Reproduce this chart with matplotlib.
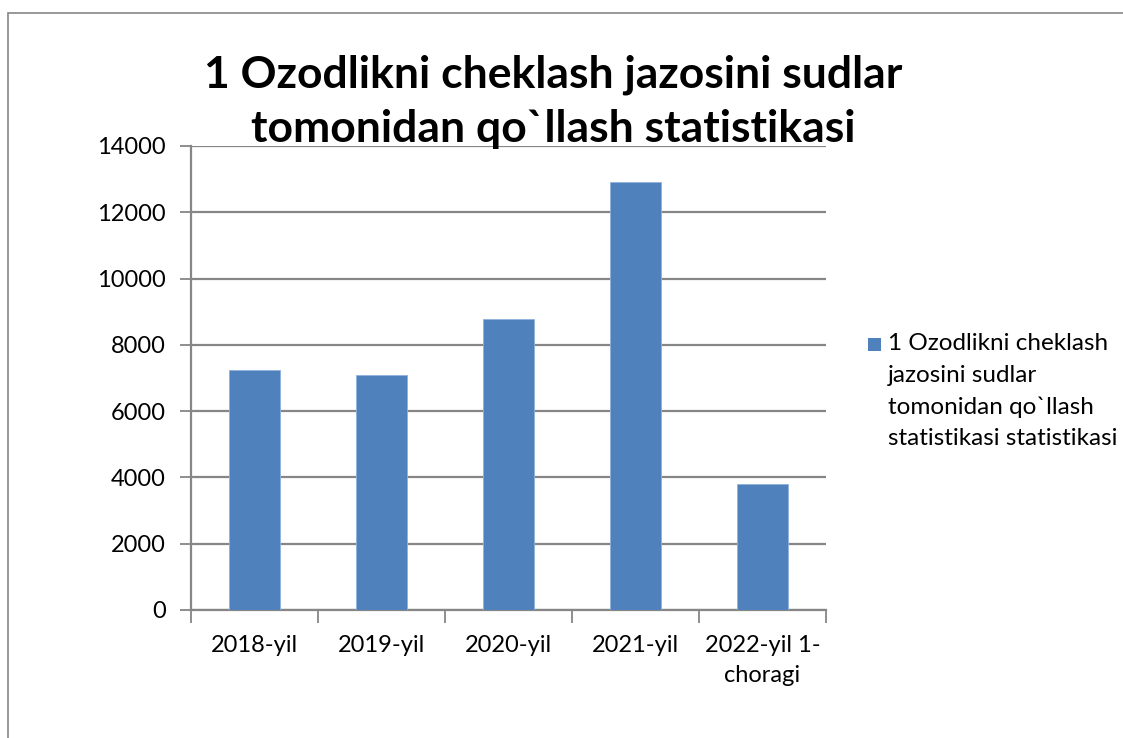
import matplotlib
matplotlib.use("Agg")
import matplotlib.pyplot as plt
from matplotlib.patches import Rectangle

categories = ["2018-yil", "2019-yil", "2020-yil", "2021-yil", "2022-yil 1-\nchoragi"]
values = [7230, 7080, 8790, 12900, 3810]
yticks = [0, 2000, 4000, 6000, 8000, 10000, 12000, 14000]
title = "1 Ozodlikni cheklash jazosini sudlar\ntomonidan qo`llash statistikasi"
legend_label = "1 Ozodlikni cheklash\njazosini sudlar\ntomonidan qo`llash\nstatistikasi statistikasi"

plt.rcParams['font.family'] = ['Lato', 'DejaVu Sans']
W, H = 1123, 738
fig = plt.figure(figsize=(W / 100, H / 100), dpi=100)
fig.patch.set_facecolor("white")

# chart area border
fig.patches.append(Rectangle((8 / W, -0.05), 1.2, 1 - 13 / H + 0.05, transform=fig.transFigure,
                             fill=False, edgecolor="#868686", linewidth=1.2))

ax = fig.add_axes([191 / W, 1 - 610 / H, (826 - 191) / W, (610 - 146) / H])
grid_c = "#868686"
x = list(range(len(categories)))
ax.bar(x, values, width=0.4, color="#4F81BD", edgecolor="#8EB1DC", linewidth=0.6, zorder=3)
ax.set_xlim(-0.5, len(categories) - 0.5)
ax.set_ylim(0, 14000)
ax.set_yticks(yticks)
ax.set_yticklabels([str(v) for v in yticks], fontsize=17)
ax.yaxis.grid(True, color=grid_c, linewidth=1.6, zorder=0)
ax.set_xticks(x)
ax.set_xticklabels(categories, fontsize=17, linespacing=1.55)
ax.tick_params(axis='x', length=0, pad=18)
ax.set_xticks([i - 0.5 for i in range(len(categories) + 1)], minor=True)
ax.tick_params(axis='x', which='minor', length=9, width=1.3, color=grid_c)
ax.tick_params(axis='y', length=8, width=1.3, color=grid_c, pad=10)
for side in ["top", "right"]:
    ax.spines[side].set_visible(False)
ax.spines["left"].set_color(grid_c)
ax.spines["left"].set_linewidth(1.6)
ax.spines["bottom"].set_color(grid_c)
ax.spines["bottom"].set_linewidth(1.6)
ax.set_facecolor("white")

fig.text(553 / W, 1 - 102 / H, title, ha="center", va="center", fontsize=32,
         fontweight="bold", linespacing=1.42)

# legend
fig.patches.append(Rectangle((868 / W, 1 - 351 / H), 13 / W, 13 / H, transform=fig.transFigure,
                             facecolor="#4F81BD", edgecolor="none"))
fig.text(888 / W, 1 - 333 / H, legend_label, ha="left", va="top", fontsize=17.5, linespacing=1.62)

fig.savefig("out.png", dpi=100)
